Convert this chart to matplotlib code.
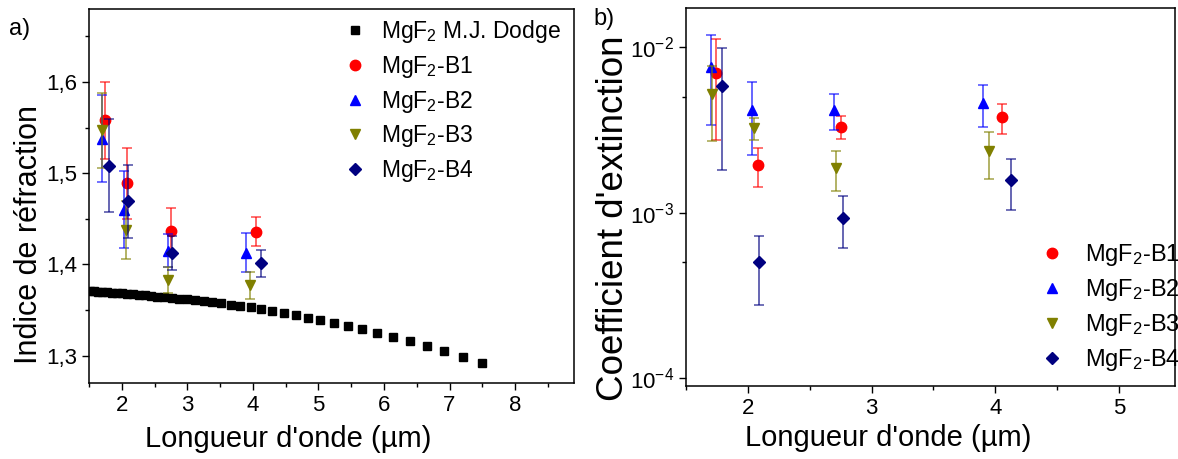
import matplotlib
matplotlib.use("Agg")
import matplotlib.pyplot as plt
from matplotlib.ticker import MultipleLocator, FixedLocator, FuncFormatter, LogLocator, NullFormatter

plt.rcParams["font.family"] = ["Liberation Sans", "DejaVu Sans"]
plt.rcParams["mathtext.fontset"] = "custom"
plt.rcParams["mathtext.rm"] = "Liberation Sans"
plt.rcParams["mathtext.it"] = "Liberation Sans:italic"

# --- data: panel a) refractive index ---
dodge_wl = [1.51, 1.57, 1.64, 1.70, 1.77, 1.85, 1.92, 2.00, 2.08, 2.17, 2.26, 2.35,
            2.44, 2.54, 2.65, 2.76, 2.87, 3.00, 3.12, 3.25, 3.38, 3.52, 3.67, 3.81,
            3.97, 4.12, 4.29, 4.47, 4.65, 4.84, 5.03, 5.24, 5.45, 5.67, 5.90, 6.14,
            6.39, 6.65, 6.92, 7.20, 7.49]
dodge_n = [1.3706, 1.3703, 1.3700, 1.3697, 1.3694, 1.3690, 1.3686, 1.3682, 1.3677,
           1.3672, 1.3667, 1.3661, 1.3655, 1.3648, 1.3641, 1.3633, 1.3625, 1.3616,
           1.3606, 1.3596, 1.3584, 1.3572, 1.3560, 1.3546, 1.3530, 1.3512, 1.3492,
           1.3466, 1.3440, 1.3414, 1.3389, 1.3359, 1.3326, 1.3290, 1.3253, 1.3205,
           1.3161, 1.3110, 1.3055, 1.2989, 1.2923]

b1_wl_n = [1.74, 2.08, 2.75, 4.04]
b1_n = [1.558, 1.489, 1.437, 1.436]
b1_n_err = [0.042, 0.039, 0.025, 0.016]

b2_wl_n = [1.70, 2.03, 2.70, 3.89]
b2_n = [1.538, 1.460, 1.415, 1.413]
b2_n_err = [0.048, 0.042, 0.018, 0.021]

b3_wl_n = [1.70, 2.06, 2.71, 3.95]
b3_n = [1.547, 1.438, 1.383, 1.377]
b3_n_err = [0.041, 0.032, 0.014, 0.015]

b4_wl_n = [1.80, 2.10, 2.77, 4.12]
b4_n = [1.508, 1.469, 1.4125, 1.401]
b4_n_err = [0.051, 0.040, 0.019, 0.015]

# --- data: panel b) extinction coefficient ---
b1_wl_k = [1.74, 2.08, 2.75, 4.05]
b1_k = [6.92e-3, 1.94e-3, 3.28e-3, 3.76e-3]
b1_k_err = [4.2e-3, 0.52e-3, 0.52e-3, 0.78e-3]

b2_wl_k = [1.70, 2.03, 2.70, 3.90]
b2_k = [7.58e-3, 4.16e-3, 4.16e-3, 4.56e-3]
b2_k_err = [4.2e-3, 1.95e-3, 1.0e-3, 1.3e-3]

b3_wl_k = [1.71, 2.05, 2.71, 3.95]
b3_k = [5.19e-3, 3.22e-3, 1.85e-3, 2.34e-3]
b3_k_err = [2.49e-3, 0.5e-3, 0.5e-3, 0.74e-3]

b4_wl_k = [1.79, 2.09, 2.77, 4.13]
b4_k = [5.80e-3, 5.0e-4, 9.33e-4, 1.574e-3]
b4_k_err = [4.0e-3, 2.23e-4, 3.2e-4, 5.35e-4]

labels = ["MgF$_2$-B1", "MgF$_2$-B2", "MgF$_2$-B3", "MgF$_2$-B4"]
colors = ["#FF0000", "#0000FF", "#808000", "#000080"]
markers = ["o", "^", "v", "D"]
msizes = [7.5, 7.5, 7.5, 6]

fig = plt.figure(figsize=(11.78, 4.59), dpi=100)
ax1 = fig.add_axes([0.0756, 0.1656, 0.4117, 0.8148])
ax2 = fig.add_axes([0.5823, 0.159, 0.415, 0.8235])

# panel a
ax1.plot(dodge_wl, dodge_n, "s", color="black", ms=5.5, label="MgF$_2$ M.J. Dodge")
sets_n = [(b1_wl_n, b1_n, b1_n_err), (b2_wl_n, b2_n, b2_n_err),
          (b3_wl_n, b3_n, b3_n_err), (b4_wl_n, b4_n, b4_n_err)]
for (x, y, e), c, m, s, lab in zip(sets_n, colors, markers, msizes, labels):
    ax1.errorbar(x, y, yerr=e, fmt="none", ecolor=c, elinewidth=1.3, capsize=3.5,
                 capthick=1.2, alpha=0.65)
    ax1.plot(x, y, m, color=c, ms=s, linestyle="none", label=lab)

ax1.set_xlim(1.5, 8.9)
ax1.set_ylim(1.27, 1.68)
ax1.xaxis.set_major_locator(MultipleLocator(1))
ax1.xaxis.set_minor_locator(MultipleLocator(0.5))
ax1.yaxis.set_major_locator(MultipleLocator(0.1))
ax1.yaxis.set_minor_locator(MultipleLocator(0.05))
ax1.yaxis.set_major_formatter(FuncFormatter(lambda v, p: f"{v:.1f}".replace(".", ",")))
ax1.set_xlabel("Longueur d'onde (µm)", fontsize=21)
ax1.set_ylabel("Indice de réfraction", fontsize=22)
ax1.xaxis.set_label_coords(0.41, -0.112)
ax1.yaxis.set_label_coords(-0.093, 0.398)
ax1.legend(loc="upper left", bbox_to_anchor=(0.49, 1.015), frameon=False, fontsize=16.5,
           handletextpad=0.5, labelspacing=0.38, handlelength=1.2, borderaxespad=0.25)
ax1.text(-0.165, 0.93, "a)", transform=ax1.transAxes, fontsize=17)

# panel b
sets_k = [(b1_wl_k, b1_k, b1_k_err), (b2_wl_k, b2_k, b2_k_err),
          (b3_wl_k, b3_k, b3_k_err), (b4_wl_k, b4_k, b4_k_err)]
for (x, y, e), c, m, s, lab in zip(sets_k, colors, markers, msizes, labels):
    ax2.errorbar(x, y, yerr=e, fmt="none", ecolor=c, elinewidth=1.3, capsize=3.5,
                 capthick=1.2, alpha=0.65)
    ax2.plot(x, y, m, color=c, ms=s, linestyle="none", label=lab)

ax2.set_yscale("log")
ax2.set_xlim(1.5, 5.45)
ax2.set_ylim(9.0e-5, 1.71e-2)
ax2.xaxis.set_major_locator(MultipleLocator(1))
ax2.xaxis.set_minor_locator(MultipleLocator(0.5))
ax2.yaxis.set_major_locator(FixedLocator([1e-4, 1e-3, 1e-2]))
ax2.yaxis.set_minor_locator(LogLocator(base=10, subs=[5.0]))
ax2.yaxis.set_minor_formatter(NullFormatter())
ax2.set_xlabel("Longueur d'onde (µm)", fontsize=21)
ax2.set_ylabel("Coefficient d'extinction", fontsize=26.5)
ax2.xaxis.set_label_coords(0.413, -0.10)
ax2.yaxis.set_label_coords(-0.112, 0.445)
ax2.legend(loc="lower right", bbox_to_anchor=(1.045, -0.01), frameon=False, fontsize=17,
           handletextpad=0.8, labelspacing=0.38, handlelength=1.2, borderaxespad=0.3)
ax2.text(-0.19, 0.955, "b)", transform=ax2.transAxes, fontsize=17)

for ax in (ax1, ax2):
    ax.tick_params(which="major", direction="out", length=5, width=1, labelsize=16,
                   top=False, right=False)
    ax.tick_params(which="minor", direction="out", length=3, width=1,
                   top=False, right=False)
    for sp in ax.spines.values():
        sp.set_linewidth(1.1)

fig.savefig("out.png", dpi=100)
